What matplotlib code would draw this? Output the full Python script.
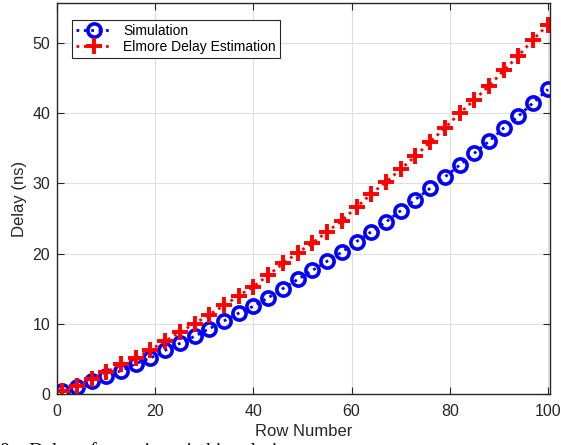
import matplotlib.pyplot as plt
import numpy as np

plt.rcParams['font.family'] = ['Liberation Sans', 'DejaVu Sans']

# row numbers (every 3rd row)
rows = np.arange(1, 101, 3)

# delay values (ns)
sim_delay = [0.4, 1.0, 1.8, 2.5, 3.3, 4.3, 5.1, 6.2, 7.2, 8.2, 9.3, 10.4,
             11.5, 12.5, 13.7, 15.0, 16.3, 17.6, 18.9, 20.2, 21.7, 23.1,
             24.5, 26.1, 27.7, 29.3, 30.9, 32.6, 34.3, 36.0, 37.9, 39.6,
             41.5, 43.4]
elmore_delay = [0.4, 1.1, 2.1, 3.1, 4.2, 5.1, 6.3, 7.5, 8.8, 10.0, 11.3,
                12.6, 14.0, 15.3, 16.9, 18.6, 20.1, 21.5, 23.1, 24.7, 26.6,
                28.5, 30.2, 32.0, 33.9, 35.9, 37.9, 40.0, 41.9, 43.9, 46.1,
                48.2, 50.5, 52.6]

fig = plt.figure(figsize=(5.61, 4.45), dpi=100)
ax = fig.add_axes([0.102, 0.115, 0.879, 0.878])

ax.plot(rows, sim_delay, ':', color='#0000ff', lw=2, marker='o',
        markersize=9.5, markeredgewidth=2.6, markerfacecolor='none',
        label='Simulation')
ax.plot(rows, elmore_delay, ':', color='#ff0000', lw=2, marker='+',
        markersize=11, markeredgewidth=2.8, label='Elmore Delay Estimation')

ax.set_xlim(0, 100.5)
ax.set_ylim(0, 55.7)
ax.set_xticks([0, 20, 40, 60, 80, 100])
ax.set_yticks([0, 10, 20, 30, 40, 50])
ax.grid(True, color='#dfdfdf', lw=0.8)
ax.set_axisbelow(True)
ax.tick_params(direction='in', top=True, right=True, labelsize=11.5,
               length=5, colors='#262626')
ax.tick_params(axis='x', pad=7)
ax.tick_params(axis='y', pad=5)
for s in ax.spines.values():
    s.set_color('#262626')
    s.set_linewidth(1.0)

ax.set_xlabel('Row Number', fontsize=12, color='#262626', labelpad=4)
ax.set_ylabel('Delay (ns)', fontsize=12, color='#262626', labelpad=4)

leg = ax.legend(loc='upper left', fontsize=10, fancybox=False,
                framealpha=1, edgecolor='#262626', borderpad=0.3,
                handlelength=2.6, labelspacing=0.15,
                bbox_to_anchor=(0.015, 0.975))
leg.get_frame().set_linewidth(0.8)

# figure caption, mostly below the bottom edge as in the source image
fig.text(0.0, 0.006, '8.   Delay of rows in switching design',
         family=['Liberation Serif', 'DejaVu Serif'], fontsize=14,
         ha='left', va='top')

fig.savefig('out.png', dpi=100)
